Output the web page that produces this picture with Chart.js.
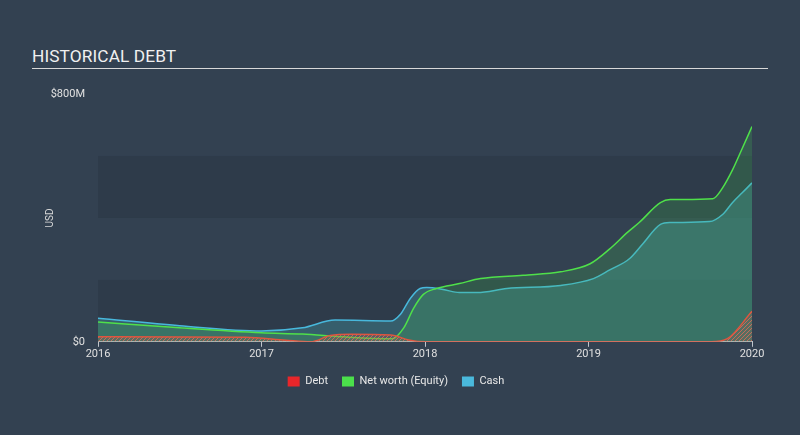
<!DOCTYPE html>
<html>
<head>
<meta charset="utf-8">
<script src="https://cdn.jsdelivr.net/npm/chart.js@4/dist/chart.umd.min.js"></script>
<style>
  body { margin: 0; background: #334151; font-family: Roboto, "Noto Sans", sans-serif; }
  #wrap { position: relative; width: 800px; height: 435px; }
  #title { position: absolute; left: 32px; top: 46px; color: #f0f0f0; font-size: 17.3px; letter-spacing: 0.1px; }
  #rule { position: absolute; left: 32px; top: 68px; width: 736px; height: 1px; background: #d8d8d8; }
  canvas { position: absolute; left: 0; top: 0; }
</style>
</head>
<body>
<div id="wrap">
  <div id="title">HISTORICAL DEBT</div>
  <div id="rule"></div>
  <canvas id="debtchart" width="800" height="435"></canvas>
</div>
<script>
// dữ liệu (năm thập phân, triệu USD)
const debtTime = [2016, 2016.9, 2017.15, 2017.3, 2017.42, 2017.55, 2017.79, 2017.9, 2018.0, 2019.75, 2019.85, 2020];
const debtValues = [16, 15, 5, 0, 20, 24, 22, 6, 0, 0, 10, 99];

const equityTime = [2016, 2016.5, 2017, 2017.25, 2017.5, 2017.8, 2017.87, 2017.93, 2017.99, 2018.07, 2018.21, 2018.34, 2018.6, 2018.83, 2019.01, 2019.13, 2019.24, 2019.31, 2019.44, 2019.5, 2019.76, 2019.82, 2019.88, 2019.94, 2020];
const equityValues = [64, 45, 29, 25, 16, 10, 45, 108, 153, 172, 188, 204, 215, 226, 252, 300, 354, 385, 449, 459, 462, 497, 554, 624, 695];

const cashTime = [2016, 2016.5, 2017, 2017.25, 2017.45, 2017.79, 2017.85, 2017.91, 2017.97, 2018.01, 2018.11, 2018.21, 2018.32, 2018.5, 2018.83, 2019.03, 2019.13, 2019.25, 2019.33, 2019.44, 2019.5, 2019.74, 2019.82, 2019.88, 2019.94, 2020];
const cashValues = [76, 52, 35, 45, 70, 67, 89, 140, 172, 175, 169, 159, 159, 172, 182, 204, 232, 268, 315, 379, 385, 388, 411, 449, 481, 513];

const yTicks = [0, 800];
const xTicks = [2016, 2017, 2018, 2019, 2020];

function toPoints(t, v) {
    return t.map((x, i) => ({ x: x, y: v[i] }));
}

/** tạo pattern gạch chéo cho nợ */
function makeHatch() {
    const c = document.createElement('canvas');
    c.width = 4; c.height = 4;
    const g = c.getContext('2d');
    g.fillStyle = 'rgba(180,90,80,0.25)';
    g.fillRect(0, 0, 4, 4);
    g.strokeStyle = 'rgba(230,110,90,0.75)';
    g.lineWidth = 1;
    g.beginPath();
    g.moveTo(0, 4); g.lineTo(4, 0);
    g.moveTo(-2, 2); g.lineTo(2, -2);
    g.moveTo(2, 6); g.lineTo(6, 2);
    g.stroke();
    return g.createPattern(c, 'repeat');
}

// nền dải ngang
const bandPlugin = {
    id: 'bands',
    beforeDraw(chart) {
        const { ctx, chartArea, scales } = chart;
        const y = scales.y;
        const cols = ['#2e3b4a', '#334151', '#2e3b4a', '#334151'];
        for (let i = 0; i < 4; i++) {
            const top = y.getPixelForValue((i + 1) * 200);
            const bot = y.getPixelForValue(i * 200);
            ctx.fillStyle = cols[i];
            ctx.fillRect(chartArea.left, top, chartArea.right - chartArea.left, bot - top);
        }
    }
};

new Chart('debtchart', {
    type: 'line',
    data: {
        datasets: [{
            label: 'Debt',
            data: toPoints(debtTime, debtValues),
            borderColor: '#e0553f',
            backgroundColor: makeHatch(),
            fill: 'origin',
            borderWidth: 1.5
        }, {
            label: 'Net worth (Equity)',
            data: toPoints(equityTime, equityValues),
            borderColor: '#4fe04a',
            backgroundColor: 'rgba(70,190,80,0.22)',
            fill: 'origin',
            borderWidth: 1.5
        }, {
            label: 'Cash',
            data: toPoints(cashTime, cashValues),
            borderColor: '#48b8dc',
            backgroundColor: 'rgba(72,175,190,0.3)',
            fill: 'origin',
            borderWidth: 1.5
        }]
    },
    options: {
        responsive: false,
        animation: false,
        layout: { padding: { left: 40, right: 48, top: 94, bottom: 38 } },
        elements: {
            point: { radius: 0 },
            line: { cubicInterpolationMode: 'monotone' }
        },
        plugins: {
            legend: {
                position: 'bottom',
                labels: {
                    color: '#e8e8e8',
                    font: { family: 'Roboto', size: 11 },
                    boxWidth: 12,
                    boxHeight: 10,
                    padding: 14,
                    generateLabels(chart) {
                        const cols = ['#e8262a', '#4be04b', '#4ab9dc'];
                        return chart.data.datasets.map((d, i) => ({
                            text: d.label, fillStyle: cols[i], strokeStyle: cols[i],
                            lineWidth: 0, fontColor: '#e8e8e8', datasetIndex: i
                        }));
                    }
                }
            },
            tooltip: { enabled: false }
        },
        scales: {
            x: {
                type: 'linear',
                min: 2016,
                max: 2020,
                afterBuildTicks(s) { s.ticks = xTicks.map(v => ({ value: v })); },
                ticks: {
                    color: '#e0e0e0',
                    font: { family: 'Roboto', size: 11 },
                    padding: 1,
                    maxRotation: 0,
                    callback: v => String(v)
                },
                grid: { display: true, drawOnChartArea: false, drawTicks: true, tickLength: 5, color: '#c0c5cc' },
                border: { color: '#c0c5cc', width: 1 }
            },
            y: {
                min: 0,
                max: 800,
                afterBuildTicks(s) { s.ticks = yTicks.map(v => ({ value: v })); },
                afterFit(s) { s.width = 58; },
                ticks: {
                    color: '#e0e0e0',
                    font: { family: 'Roboto', size: 11 },
                    padding: 5,
                    callback: v => v === 0 ? '$0' : '$' + v + 'M'
                },
                title: {
                    display: true,
                    text: 'USD',
                    color: '#d8d8d8',
                    font: { family: 'Roboto', size: 10 }
                },
                grid: { display: false },
                border: { display: false }
            }
        }
    },
    plugins: [bandPlugin]
});
</script>
</body>
</html>
